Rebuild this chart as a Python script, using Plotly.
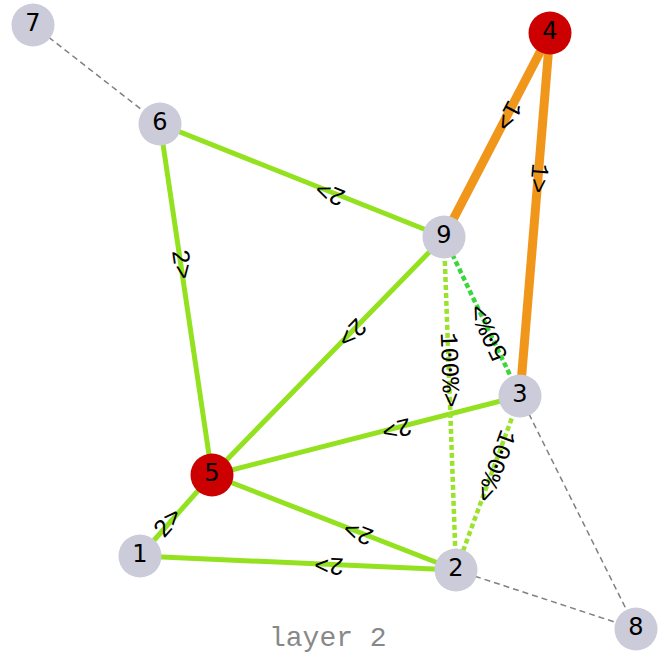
import math
import plotly.graph_objects as go

# node layout (pixel-like coordinates, y grows downward)
node_ids = [1, 2, 3, 4, 5, 6, 7, 8, 9]
node_x = [140, 456, 520, 550, 212, 160, 33, 636, 444]
node_y = [556, 570, 396, 33, 475, 124, 25, 629, 237]
node_fill = ["#cbcbd9", "#cbcbd9", "#cbcbd9", "#cc0000", "#cc0000",
             "#cbcbd9", "#cbcbd9", "#cbcbd9", "#cbcbd9"]

# edges: source, target, label, kind
edge_src = [7, 3, 2, 9, 6, 9, 3, 2, 2, 1, 3, 9, 3, 4, 4]
edge_dst = [6, 8, 8, 6, 5, 5, 5, 5, 1, 5, 9, 2, 2, 9, 3]
edge_label = ["", "", "", "2>", "2>", "2>", "2>", "2>", "2>", "2>",
              "50%>", "100%>", "100%>", "1>", "1>"]
edge_kind = ["weak", "weak", "weak", "solid", "solid", "solid", "solid",
             "solid", "solid", "solid", "dot50", "dot100", "dot100",
             "heavy", "heavy"]

styles = {
    "weak": dict(color="#808080", width=1.5, dash="6px,4px"),
    "solid": dict(color="#93e11f", width=5),
    "dot50": dict(color="#3ad63a", width=4.5, dash="5px,3px"),
    "dot100": dict(color="#9be22d", width=4.5, dash="5px,3px"),
    "heavy": dict(color="#f0961a", width=9),
}

pos = {n: (x, y) for n, x, y in zip(node_ids, node_x, node_y)}

fig = go.Figure()

for s, d, lab, kind in zip(edge_src, edge_dst, edge_label, edge_kind):
    x0, y0 = pos[s]
    x1, y1 = pos[d]
    fig.add_trace(go.Scatter(x=[x0, x1], y=[y0, y1], mode="lines",
                             line=styles[kind], hoverinfo="skip",
                             showlegend=False))
    if lab:
        # label sits 40% of the way from source, rotated along the edge
        t = 0.4
        ang = math.degrees(math.atan2(y1 - y0, x1 - x0))
        fig.add_annotation(x=x0 + t * (x1 - x0), y=y0 + t * (y1 - y0),
                           text=lab, showarrow=False, textangle=ang,
                           font=dict(family="Liberation Mono", size=25,
                                     color="black"))

fig.add_trace(go.Scatter(
    x=node_x, y=node_y, mode="markers+text",
    text=[str(n) for n in node_ids], textposition="middle center",
    textfont=dict(family="DejaVu Sans", size=24, color="black"),
    marker=dict(size=43, color=node_fill, line=dict(width=0)),
    hoverinfo="text", showlegend=False))

fig.add_annotation(x=328, y=638, text="layer 2", showarrow=False,
                   font=dict(family="Liberation Mono", size=28, color="#888888"))

fig.update_xaxes(range=[0, 659], visible=False, fixedrange=True)
fig.update_yaxes(range=[655, 0], visible=False, fixedrange=True)
fig.update_layout(width=659, height=655, margin=dict(l=0, r=0, t=0, b=0),
                  plot_bgcolor="white", paper_bgcolor="white")

fig.write_html("out.html", config={"displayModeBar": False},
               post_script="document.body.style.margin='0';")
